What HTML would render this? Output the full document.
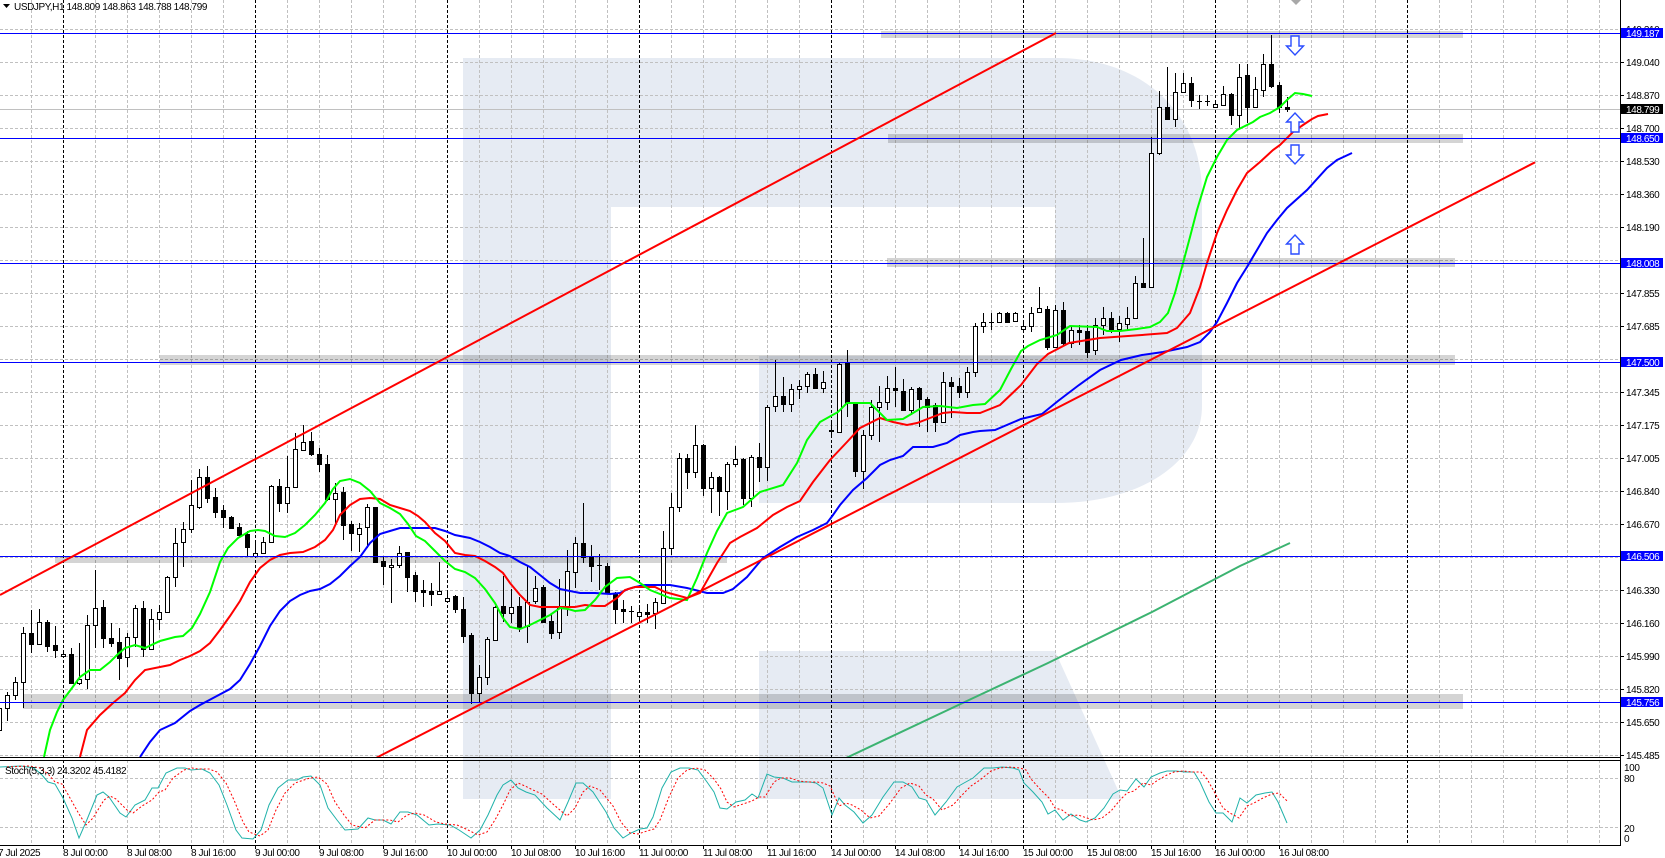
<!DOCTYPE html>
<html><head><meta charset="utf-8"><title>USDJPY H1</title>
<style>
html,body{margin:0;padding:0;background:#fff;}
body{width:1665px;height:858px;overflow:hidden;}
svg{display:block;}
text{font-family:"Liberation Sans",sans-serif;font-size:10px;letter-spacing:-0.4px;fill:#000;}
</style></head><body>
<svg width="1665" height="858" viewBox="0 0 1665 858" xmlns="http://www.w3.org/2000/svg">
<defs>
<clipPath id="mp"><rect x="0" y="0" width="1620" height="757"/></clipPath>
<clipPath id="sp"><rect x="0" y="761" width="1620" height="84"/></clipPath>
<clipPath id="sp2"><rect x="0" y="761" width="1288" height="84"/></clipPath>
</defs>
<rect width="1665" height="858" fill="#fff"/>
<!-- watermark -->
<g fill="#e6ebf3">
<path d="M463 58H1057C1140 58 1200 110 1202 190V406C1202 462 1140 503 1057 503H759V356H1055V207H611V799H463Z"/>
<path d="M759 651H1055L1122 799H759Z"/>
</g>
<!-- grid -->
<g stroke="#c0c0c0" stroke-width="1" stroke-dasharray="3,2" fill="none" shape-rendering="crispEdges">
<path d="M31.5 0V845M95.5 0V845M127.5 0V845M159.5 0V845M191.5 0V845M223.5 0V845M287.5 0V845M319.5 0V845M351.5 0V845M383.5 0V845M415.5 0V845M479.5 0V845M511.5 0V845M543.5 0V845M575.5 0V845M607.5 0V845M671.5 0V845M703.5 0V845M735.5 0V845M767.5 0V845M799.5 0V845M863.5 0V845M895.5 0V845M927.5 0V845M959.5 0V845M991.5 0V845M1055.5 0V845M1087.5 0V845M1119.5 0V845M1151.5 0V845M1183.5 0V845M1247.5 0V845M1279.5 0V845M1311.5 0V845M1343.5 0V845M1375.5 0V845M1439.5 0V845M1471.5 0V845M1503.5 0V845M1535.5 0V845M1567.5 0V845M1599.5 0V845"/>
<path d="M0 29.5H1620M0 62.5H1620M0 95.5H1620M0 128.5H1620M0 161.5H1620M0 194.5H1620M0 227.5H1620M0 260.5H1620M0 293.5H1620M0 326.5H1620M0 359.5H1620M0 392.5H1620M0 425.5H1620M0 458.5H1620M0 491.5H1620M0 524.5H1620M0 557.5H1620M0 590.5H1620M0 623.5H1620M0 656.5H1620M0 689.5H1620M0 722.5H1620M0 755.5H1620M0 778.5H1620M0 827.5H1620"/>
</g>
<g stroke="#000" stroke-width="1" stroke-dasharray="3,2" fill="none" shape-rendering="crispEdges">
<path d="M63.5 0V845M255.5 0V845M447.5 0V845M639.5 0V845M831.5 0V845M1023.5 0V845M1215.5 0V845M1407.5 0V845"/>
</g>
<!-- bands -->
<g fill="rgba(0,0,0,0.17)" shape-rendering="crispEdges">
<rect x="881" y="31" width="582" height="7"/>
<rect x="888" y="134" width="575" height="9"/>
<rect x="887" y="258" width="568" height="9"/>
<rect x="160" y="355" width="1295" height="10"/>
<rect x="55" y="556" width="672" height="7"/>
<rect x="23" y="694" width="1440" height="15"/>
</g>
<!-- bid line -->
<path d="M0 109.5H1620" stroke="#c0c0c0" stroke-width="1" shape-rendering="crispEdges"/>
<g clip-path="url(#mp)">
<!-- MA 200 -->
<polyline fill="none" stroke="#3cb371" stroke-width="2" points="844,759 969,700 1048,663 1152,612 1240,566 1290,543"/>
<!-- candles -->
<path fill="none" stroke="#000" stroke-width="1" shape-rendering="crispEdges" d="M-0.5 700V740M7.5 692V721M15.5 677V700M23.5 627V708M31.5 610V653M39.5 609V644M47.5 620V652M55.5 626V658M63.5 651V658M71.5 648V683M79.5 643V685M87.5 615V689M95.5 570V648M103.5 600V648M111.5 623V647M119.5 628V680M127.5 633V667M135.5 605V647M143.5 601V657M151.5 609V650M159.5 605V630M167.5 576V613M175.5 528V587M183.5 522V567M191.5 480V533M199.5 469V509M207.5 466V503M215.5 488V518M223.5 505V528M231.5 516V528M239.5 523V537M247.5 531V557M255.5 543V557M263.5 537V553M271.5 485V543M279.5 479V512M287.5 456V513M295.5 433V487M303.5 425V451M311.5 432V456M319.5 448V472M327.5 455V501M335.5 483V523M343.5 487V540M351.5 521V551M359.5 523V552M367.5 504V548M375.5 507V562M383.5 557V585M391.5 559V603M399.5 546V568M407.5 552V592M415.5 572V602M423.5 580V607M431.5 583V606M439.5 562V595M447.5 593V602M455.5 595V613M463.5 597V643M471.5 633V704M479.5 665V703M487.5 637V685M495.5 606V641M503.5 576V622M511.5 589V623M519.5 597V632M527.5 566V643M535.5 576V604M543.5 585V623M551.5 613V639M559.5 579V639M567.5 550V616M575.5 537V588M583.5 503V563M591.5 545V582M599.5 554V590M597 565.5H602M607.5 563V594M615.5 592V624M623.5 600V623M631.5 606V623M629 611.5H634M639.5 607V622M647.5 604V623M655.5 598V629M663.5 531V604M671.5 493V555M679.5 453V512M687.5 454V489M695.5 425V478M703.5 444V496M711.5 472V513M719.5 476V516M727.5 462V510M735.5 446V467M743.5 458V505M751.5 455V507M759.5 443V482M767.5 405V481M775.5 360V412M783.5 377V412M791.5 384V412M799.5 380V399M807.5 372V393M815.5 368V389M823.5 371V393M831.5 420V437M839.5 363V433M847.5 350V417M855.5 402V477M863.5 430V489M871.5 400V440M879.5 386V442M887.5 376V410M895.5 367V407M903.5 379V411M911.5 387V415M919.5 387V427M927.5 397V432M935.5 403V432M943.5 372V423M951.5 377V418M959.5 378V398M967.5 367V398M975.5 323V377M983.5 313V333M991.5 313V330M989 322.5H994M999.5 312V322M1007.5 312V323M1015.5 312V322M1023.5 323V332M1031.5 307V332M1039.5 287V313M1047.5 306V350M1055.5 305V348M1063.5 302V345M1071.5 327V348M1079.5 325V345M1087.5 325V358M1095.5 318V355M1103.5 307V335M1111.5 312V333M1119.5 316V342M1127.5 307V330M1135.5 276V319M1143.5 238V288M1151.5 137V288M1159.5 91V155M1167.5 67V119M1175.5 73V127M1183.5 73V93M1191.5 77V107M1199.5 95V109M1197 101.5H1202M1207.5 95V106M1205 101.5H1210M1215.5 103V108M1223.5 86V106M1231.5 93V125M1239.5 64V128M1247.5 64V123M1255.5 77V107M1263.5 54V97M1271.5 35V88M1279.5 82V113M1287.5 97V112"/>
<g fill="#fff" stroke="#000" stroke-width="1" shape-rendering="crispEdges">
<rect x="-2.5" y="708.5" width="4" height="22"/><rect x="5.5" y="695.5" width="4" height="13"/><rect x="13.5" y="682.5" width="4" height="13"/><rect x="21.5" y="633.5" width="4" height="49"/><rect x="37.5" y="622.5" width="4" height="22"/><rect x="61.5" y="654.5" width="4" height="2"/><rect x="77.5" y="679.5" width="4" height="4"/><rect x="85.5" y="625.5" width="4" height="54"/><rect x="93.5" y="608.5" width="4" height="17"/><rect x="125.5" y="637.5" width="4" height="20"/><rect x="133.5" y="608.5" width="4" height="29"/><rect x="149.5" y="619.5" width="4" height="30"/><rect x="157.5" y="612.5" width="4" height="7"/><rect x="165.5" y="577.5" width="4" height="35"/><rect x="173.5" y="543.5" width="4" height="34"/><rect x="181.5" y="529.5" width="4" height="13"/><rect x="189.5" y="505.5" width="4" height="24"/><rect x="197.5" y="477.5" width="4" height="30"/><rect x="253.5" y="553.5" width="4" height="3"/><rect x="261.5" y="542.5" width="4" height="11"/><rect x="269.5" y="486.5" width="4" height="56"/><rect x="285.5" y="487.5" width="4" height="16"/><rect x="293.5" y="449.5" width="4" height="38"/><rect x="301.5" y="442.5" width="4" height="8"/><rect x="333.5" y="493.5" width="4" height="6"/><rect x="357.5" y="528.5" width="4" height="6"/><rect x="365.5" y="507.5" width="4" height="20"/><rect x="389.5" y="565.5" width="4" height="2"/><rect x="397.5" y="553.5" width="4" height="12"/><rect x="437.5" y="591.5" width="4" height="3"/><rect x="445.5" y="598.5" width="4" height="3"/><rect x="477.5" y="677.5" width="4" height="16"/><rect x="485.5" y="639.5" width="4" height="38"/><rect x="493.5" y="607.5" width="4" height="33"/><rect x="509.5" y="607.5" width="4" height="6"/><rect x="525.5" y="602.5" width="4" height="24"/><rect x="533.5" y="588.5" width="4" height="13"/><rect x="557.5" y="607.5" width="4" height="25"/><rect x="565.5" y="571.5" width="4" height="36"/><rect x="573.5" y="543.5" width="4" height="29"/><rect x="637.5" y="612.5" width="4" height="4"/><rect x="653.5" y="602.5" width="4" height="11"/><rect x="661.5" y="548.5" width="4" height="55"/><rect x="669.5" y="507.5" width="4" height="41"/><rect x="677.5" y="458.5" width="4" height="49"/><rect x="693.5" y="445.5" width="4" height="27"/><rect x="709.5" y="477.5" width="4" height="11"/><rect x="725.5" y="464.5" width="4" height="27"/><rect x="733.5" y="459.5" width="4" height="5"/><rect x="749.5" y="457.5" width="4" height="41"/><rect x="765.5" y="407.5" width="4" height="60"/><rect x="773.5" y="396.5" width="4" height="10"/><rect x="789.5" y="389.5" width="4" height="15"/><rect x="797.5" y="386.5" width="4" height="3"/><rect x="805.5" y="374.5" width="4" height="12"/><rect x="821.5" y="382.5" width="4" height="6"/><rect x="837.5" y="364.5" width="4" height="68"/><rect x="861.5" y="435.5" width="4" height="36"/><rect x="869.5" y="407.5" width="4" height="28"/><rect x="877.5" y="402.5" width="4" height="5"/><rect x="885.5" y="388.5" width="4" height="14"/><rect x="909.5" y="389.5" width="4" height="21"/><rect x="941.5" y="382.5" width="4" height="40"/><rect x="965.5" y="372.5" width="4" height="20"/><rect x="973.5" y="326.5" width="4" height="46"/><rect x="981.5" y="322.5" width="4" height="4"/><rect x="997.5" y="313.5" width="4" height="9"/><rect x="1013.5" y="313.5" width="4" height="8"/><rect x="1021.5" y="326.5" width="4" height="3"/><rect x="1029.5" y="313.5" width="4" height="13"/><rect x="1037.5" y="308.5" width="4" height="4"/><rect x="1053.5" y="310.5" width="4" height="37"/><rect x="1069.5" y="330.5" width="4" height="13"/><rect x="1093.5" y="325.5" width="4" height="25"/><rect x="1101.5" y="318.5" width="4" height="7"/><rect x="1117.5" y="323.5" width="4" height="6"/><rect x="1125.5" y="318.5" width="4" height="6"/><rect x="1133.5" y="283.5" width="4" height="35"/><rect x="1149.5" y="153.5" width="4" height="134"/><rect x="1157.5" y="107.5" width="4" height="46"/><rect x="1173.5" y="92.5" width="4" height="27"/><rect x="1181.5" y="83.5" width="4" height="9"/><rect x="1213.5" y="104.5" width="4" height="3"/><rect x="1221.5" y="94.5" width="4" height="11"/><rect x="1237.5" y="77.5" width="4" height="38"/><rect x="1253.5" y="89.5" width="4" height="18"/><rect x="1261.5" y="64.5" width="4" height="26"/>
</g>
<g fill="#000" stroke="#000" stroke-width="1" shape-rendering="crispEdges">
<rect x="29.5" y="633.5" width="4" height="11"/><rect x="45.5" y="622.5" width="4" height="24"/><rect x="53.5" y="645.5" width="4" height="5"/><rect x="69.5" y="654.5" width="4" height="29"/><rect x="101.5" y="607.5" width="4" height="31"/><rect x="109.5" y="638.5" width="4" height="5"/><rect x="117.5" y="642.5" width="4" height="16"/><rect x="141.5" y="608.5" width="4" height="41"/><rect x="205.5" y="477.5" width="4" height="21"/><rect x="213.5" y="497.5" width="4" height="15"/><rect x="221.5" y="510.5" width="4" height="7"/><rect x="229.5" y="517.5" width="4" height="11"/><rect x="237.5" y="527.5" width="4" height="8"/><rect x="245.5" y="534.5" width="4" height="13"/><rect x="277.5" y="486.5" width="4" height="17"/><rect x="309.5" y="441.5" width="4" height="13"/><rect x="317.5" y="454.5" width="4" height="10"/><rect x="325.5" y="464.5" width="4" height="35"/><rect x="341.5" y="492.5" width="4" height="33"/><rect x="349.5" y="524.5" width="4" height="9"/><rect x="373.5" y="507.5" width="4" height="55"/><rect x="381.5" y="561.5" width="4" height="5"/><rect x="405.5" y="552.5" width="4" height="25"/><rect x="413.5" y="575.5" width="4" height="16"/><rect x="421.5" y="590.5" width="4" height="2"/><rect x="429.5" y="591.5" width="4" height="3"/><rect x="453.5" y="596.5" width="4" height="13"/><rect x="461.5" y="609.5" width="4" height="27"/><rect x="469.5" y="635.5" width="4" height="58"/><rect x="501.5" y="606.5" width="4" height="7"/><rect x="517.5" y="606.5" width="4" height="22"/><rect x="541.5" y="587.5" width="4" height="35"/><rect x="549.5" y="621.5" width="4" height="12"/><rect x="581.5" y="543.5" width="4" height="14"/><rect x="589.5" y="556.5" width="4" height="10"/><rect x="605.5" y="566.5" width="4" height="27"/><rect x="613.5" y="593.5" width="4" height="16"/><rect x="621.5" y="609.5" width="4" height="2"/><rect x="645.5" y="612.5" width="4" height="2"/><rect x="685.5" y="458.5" width="4" height="14"/><rect x="701.5" y="445.5" width="4" height="43"/><rect x="717.5" y="477.5" width="4" height="14"/><rect x="741.5" y="459.5" width="4" height="39"/><rect x="757.5" y="457.5" width="4" height="10"/><rect x="781.5" y="396.5" width="4" height="8"/><rect x="813.5" y="374.5" width="4" height="14"/><rect x="829.5" y="430.5" width="4" height="1"/><rect x="845.5" y="363.5" width="4" height="40"/><rect x="853.5" y="403.5" width="4" height="68"/><rect x="893.5" y="388.5" width="4" height="2"/><rect x="901.5" y="391.5" width="4" height="19"/><rect x="917.5" y="388.5" width="4" height="11"/><rect x="925.5" y="399.5" width="4" height="8"/><rect x="933.5" y="405.5" width="4" height="17"/><rect x="949.5" y="382.5" width="4" height="4"/><rect x="957.5" y="386.5" width="4" height="6"/><rect x="1005.5" y="313.5" width="4" height="9"/><rect x="1045.5" y="309.5" width="4" height="38"/><rect x="1061.5" y="310.5" width="4" height="33"/><rect x="1077.5" y="330.5" width="4" height="2"/><rect x="1085.5" y="331.5" width="4" height="21"/><rect x="1109.5" y="318.5" width="4" height="11"/><rect x="1141.5" y="283.5" width="4" height="4"/><rect x="1165.5" y="107.5" width="4" height="12"/><rect x="1189.5" y="83.5" width="4" height="17"/><rect x="1229.5" y="94.5" width="4" height="21"/><rect x="1245.5" y="75.5" width="4" height="32"/><rect x="1269.5" y="64.5" width="4" height="22"/><rect x="1277.5" y="85.5" width="4" height="22"/><rect x="1285.5" y="107.5" width="4" height="2"/>
</g>
<!-- moving averages -->
<polyline fill="none" stroke="#0000ff" stroke-width="2" points="140,757 150,742 160,730 175,723 190,711 200,705 215,697 230,689 240,680 250,664 260,646 270,626 280,611 290,601 300,595 310,591 320,589 330,584 340,576 350,566 360,557 370,543 380,534 390,531 400,528 420,528 435,528 445,531 455,535 470,538 480,542 490,547 500,553 510,556 520,562 530,567 540,575 550,583 560,589 570,591 580,593 595,593 610,594 620,593 628,589 635,587 645,585 670,585 687,588 707,593 723,593 733,589 747,577 763,558 780,547 797,537 813,530 827,523 833,515 840,505 853,490 867,478 880,465 890,460 903,456 913,447 933,447 947,443 960,435 973,432 980,431 995,430 1021,419 1042,414 1058,401 1079,385 1100,370 1121,360 1142,355 1163,352 1187,347 1200,342 1210,332 1217,322 1227,303 1237,283 1247,267 1257,250 1267,233 1277,220 1287,208 1307,190 1327,168 1337,160 1352,153"/>
<polyline fill="none" stroke="#ff0000" stroke-width="2" points="80,757 87,730 100,715 113,703 125,693 135,680 145,670 160,667 170,665 180,660 190,656 200,651 210,643 220,630 230,616 240,601 250,582 260,568 270,560 280,555 290,553 303,552 315,547 325,540 333,530 340,515 350,505 360,499 370,498 380,499 390,505 400,508 410,511 418,516 425,522 435,533 445,541 455,553 465,555 475,556 485,561 495,567 503,573 510,583 520,595 530,605 540,607 560,607 575,607 585,605 595,606 605,606 617,598 625,590 635,587 645,587 655,587 665,592 687,598 700,593 717,563 730,543 740,537 757,528 773,515 787,507 800,501 813,482 830,460 847,442 860,428 880,418 893,422 907,425 917,423 930,418 943,413 953,412 967,413 980,413 1000,405 1021,385 1037,364 1048,354 1069,343 1100,338 1142,335 1167,333 1177,328 1190,313 1200,287 1207,263 1217,233 1227,210 1237,190 1247,173 1260,162 1273,150 1280,145 1293,132 1303,125 1312,119 1318,116 1328,114"/>
<polyline fill="none" stroke="#00ff00" stroke-width="2" points="44,757 50,730 57,712 63,700 72,688 80,677 90,670 100,670 110,662 117,655 125,648 135,645 145,648 160,641 175,637 183,636 192,628 200,614 210,592 220,562 228,548 238,538 250,531 258,530 265,531 275,536 285,537 295,533 305,525 315,515 325,503 333,489 340,481 350,479 360,483 370,491 380,503 390,508 400,514 408,524 416,536 425,541 435,551 445,561 455,569 465,572 475,578 485,589 495,603 503,618 510,627 520,629 530,625 540,620 550,615 560,608 568,609 575,611 585,610 595,600 605,587 617,578 630,577 640,583 650,590 660,594 670,598 687,600 697,578 707,553 717,531 727,513 743,507 760,492 783,485 797,463 807,440 820,422 838,412 847,403 870,403 887,420 903,419 923,407 940,406 957,408 973,405 985,404 1000,390 1011,369 1021,351 1028,346 1040,340 1057,335 1070,326 1097,327 1107,331 1120,331 1137,329 1150,327 1160,322 1168,313 1175,293 1182,267 1190,237 1197,210 1207,177 1217,157 1227,140 1237,130 1253,122 1260,117 1270,113 1280,107 1288,99 1295,93 1303,94 1312,96"/>
<!-- horizontal levels -->
<path stroke="#0000ff" stroke-width="1" fill="none" shape-rendering="crispEdges" d="M0 33.5H1620M0 138.5H1620M0 263.5H1620M0 362.5H1620M0 556.5H1620M0 702.5H1620"/>
<!-- trend lines -->
<line x1="0" y1="595" x2="1056" y2="33" stroke="#ff0000" stroke-width="2"/>
<line x1="374" y1="759" x2="1535" y2="162.3" stroke="#ff0000" stroke-width="2"/>
<!-- arrows -->
<g fill="#fff" stroke="#2a4cff" stroke-width="1.4" stroke-linejoin="miter">
<polygon points="1291,36 1299,36 1299,46 1303.5,46 1295,55 1286.5,46 1291,46"/>
<polygon points="1295,113 1303.5,122 1299,122 1299,132 1291,132 1291,122 1286.5,122"/>
<polygon points="1291,145 1299,145 1299,155 1303.5,155 1295,164 1286.5,155 1291,155"/>
<polygon points="1295,235 1303.5,244 1299,244 1299,254 1291,254 1291,244 1286.5,244"/>
</g>
</g>
<!-- shift marker -->
<polygon points="1291,0 1301,0 1296,5" fill="#a8a8a8"/>
<!-- stochastic -->
<g clip-path="url(#sp)">
<polyline fill="none" stroke="#20b2aa" stroke-width="1" points="0,767 21,766 34,768 42,775 48,782 55,784 63,798 72,818 79,838 86,822 97,795 103,792 109,797 120,813 126,817 135,805 145,800 152,788 158,788 166,773 177,768 185,768 191,770 202,769 210,773 219,785 227,805 236,830 242,838 253,839 261,830 269,805 278,788 288,780 297,780 303,777 311,776 320,785 328,808 337,820 345,830 358,829 368,818 375,820 383,820 391,824 400,812 408,812 417,815 429,825 438,824 450,825 459,830 471,838 480,830 488,815 497,795 503,785 511,780 518,788 526,792 535,795 547,808 560,820 568,802 576,783 583,783 593,792 606,812 614,828 623,838 631,833 640,829 647,828 653,817 662,788 671,772 680,768 689,768 698,770 707,782 714,792 720,808 727,809 736,802 745,800 752,794 758,798 767,774 774,777 783,778 792,782 801,782 810,782 816,783 823,788 832,815 839,798 845,805 854,812 863,823 872,815 883,797 894,782 903,782 912,787 919,798 926,800 935,815 946,802 957,787 964,783 973,778 984,768 993,768 1002,767 1013,768 1019,770 1024,783 1033,792 1042,802 1048,814 1055,810 1063,820 1071,814 1080,820 1086,822 1095,818 1104,808 1113,794 1120,790 1127,791 1136,779 1144,787 1151,777 1160,773 1167,771 1176,771 1185,772 1194,772 1200,782 1209,802 1216,813 1223,813 1232,822 1240,798 1247,803 1256,795 1265,793 1272,792 1278,802 1287,823"/>
</g>
<g clip-path="url(#sp2)">
<polyline transform="translate(7,0)" fill="none" stroke="#ff0000" stroke-width="1" stroke-dasharray="2,2" points="0,767 21,766 34,768 42,775 48,782 55,784 63,798 72,814 79,825 86,818 97,800 103,796 109,799 120,810 126,813 135,806 145,800 152,792 158,790 166,778 177,770 185,768 191,769 202,769 210,772 219,783 227,800 236,822 242,832 253,836 261,830 269,810 278,793 288,783 297,780 303,778 311,777 320,784 328,802 337,815 345,825 358,828 368,820 375,820 383,820 391,822 400,815 408,813 417,815 429,822 438,824 450,825 459,829 471,835 480,832 488,820 497,803 503,790 511,783 518,786 526,790 535,794 547,805 560,816 568,808 576,792 583,786 593,790 606,806 614,822 623,833 631,834 640,831 647,829 653,820 662,797 671,778 680,770 689,768 698,770 707,779 714,789 720,802 727,807 736,804 745,801 752,797 758,797 767,782 774,778 783,778 792,781 801,782 810,782 816,783 823,786 832,806 839,803 845,805 854,810 863,818 872,816 883,803 894,788 903,783 912,786 919,795 926,799 935,810 946,805 957,793 964,786 973,780 984,771 993,768 1002,767 1013,768 1019,770 1024,779 1033,789 1042,798 1048,808 1055,810 1063,816 1071,815 1080,818 1086,820 1095,818 1104,811 1113,800 1120,793 1127,791 1136,783 1144,785 1151,780 1160,775 1167,772 1176,771 1185,772 1194,772 1200,779 1209,795 1216,808 1223,813 1232,818 1240,806 1247,803 1256,798 1265,794 1272,793 1278,799 1287,807"/>
</g>
<!-- pane borders -->
<g stroke="#000" stroke-width="1" fill="none" shape-rendering="crispEdges">
<path d="M0 757.5H1620M0 760.5H1620M0 845.5H1620M1620.5 0V846"/>
<path d="M1620 62.5H1624M1620 95.5H1624M1620 128.5H1624M1620 161.5H1624M1620 194.5H1624M1620 227.5H1624M1620 293.5H1624M1620 326.5H1624M1620 392.5H1624M1620 425.5H1624M1620 458.5H1624M1620 491.5H1624M1620 524.5H1624M1620 590.5H1624M1620 623.5H1624M1620 656.5H1624M1620 689.5H1624M1620 722.5H1624M1620 755.5H1624"/>
<path d="M63.5 845V849M127.5 845V849M191.5 845V849M255.5 845V849M319.5 845V849M383.5 845V849M447.5 845V849M511.5 845V849M575.5 845V849M639.5 845V849M703.5 845V849M767.5 845V849M831.5 845V849M895.5 845V849M959.5 845V849M1023.5 845V849M1087.5 845V849M1151.5 845V849M1215.5 845V849M1279.5 845V849"/>
</g>
<!-- header -->
<polygon points="3,4 10,4 6.5,8" fill="#000"/>
<text x="14" y="10">USDJPY,H1  148.809 148.863 148.788 148.799</text>
<text x="5" y="774">Stoch(5,3,3) 24.3202 45.4182</text>
<!-- price axis labels -->
<g>
<text x="1626" y="33">149.210</text>
<text x="1626" y="66">149.040</text>
<text x="1626" y="99">148.870</text>
<text x="1626" y="132">148.700</text>
<text x="1626" y="165">148.530</text>
<text x="1626" y="198">148.360</text>
<text x="1626" y="231">148.190</text>
<text x="1626" y="297">147.855</text>
<text x="1626" y="330">147.685</text>
<text x="1626" y="396">147.345</text>
<text x="1626" y="429">147.175</text>
<text x="1626" y="462">147.005</text>
<text x="1626" y="495">146.840</text>
<text x="1626" y="528">146.670</text>
<text x="1626" y="594">146.330</text>
<text x="1626" y="627">146.160</text>
<text x="1626" y="660">145.990</text>
<text x="1626" y="693">145.820</text>
<text x="1626" y="726">145.650</text>
<text x="1626" y="759">145.485</text>
</g>
<g shape-rendering="crispEdges">
<rect x="1621" y="28" width="42" height="10" fill="#0000ff"/>
<rect x="1621" y="104" width="42" height="10" fill="#000"/>
<rect x="1621" y="133" width="42" height="10" fill="#0000ff"/>
<rect x="1621" y="258" width="42" height="10" fill="#0000ff"/>
<rect x="1621" y="357" width="42" height="10" fill="#0000ff"/>
<rect x="1621" y="551" width="42" height="10" fill="#0000ff"/>
<rect x="1621" y="697" width="42" height="10" fill="#0000ff"/>
</g>
<g style="fill:#fff">
<text x="1626" y="37" style="fill:#fff">149.187</text>
<text x="1626" y="113" style="fill:#fff">148.799</text>
<text x="1626" y="142" style="fill:#fff">148.650</text>
<text x="1626" y="267" style="fill:#fff">148.008</text>
<text x="1626" y="366" style="fill:#fff">147.500</text>
<text x="1626" y="560" style="fill:#fff">146.506</text>
<text x="1626" y="706" style="fill:#fff">145.756</text>
</g>
<text x="1624" y="771">100</text>
<text x="1624" y="782">80</text>
<text x="1624" y="832">20</text>
<text x="1624" y="842">0</text>
<!-- time axis -->
<g>
<text x="-2" y="856">7 Jul 2025</text>
<text x="63" y="856">8 Jul 00:00</text>
<text x="127" y="856">8 Jul 08:00</text>
<text x="191" y="856">8 Jul 16:00</text>
<text x="255" y="856">9 Jul 00:00</text>
<text x="319" y="856">9 Jul 08:00</text>
<text x="383" y="856">9 Jul 16:00</text>
<text x="447" y="856">10 Jul 00:00</text>
<text x="511" y="856">10 Jul 08:00</text>
<text x="575" y="856">10 Jul 16:00</text>
<text x="639" y="856">11 Jul 00:00</text>
<text x="703" y="856">11 Jul 08:00</text>
<text x="767" y="856">11 Jul 16:00</text>
<text x="831" y="856">14 Jul 00:00</text>
<text x="895" y="856">14 Jul 08:00</text>
<text x="959" y="856">14 Jul 16:00</text>
<text x="1023" y="856">15 Jul 00:00</text>
<text x="1087" y="856">15 Jul 08:00</text>
<text x="1151" y="856">15 Jul 16:00</text>
<text x="1215" y="856">16 Jul 00:00</text>
<text x="1279" y="856">16 Jul 08:00</text>
</g>
</svg>
</body></html>
